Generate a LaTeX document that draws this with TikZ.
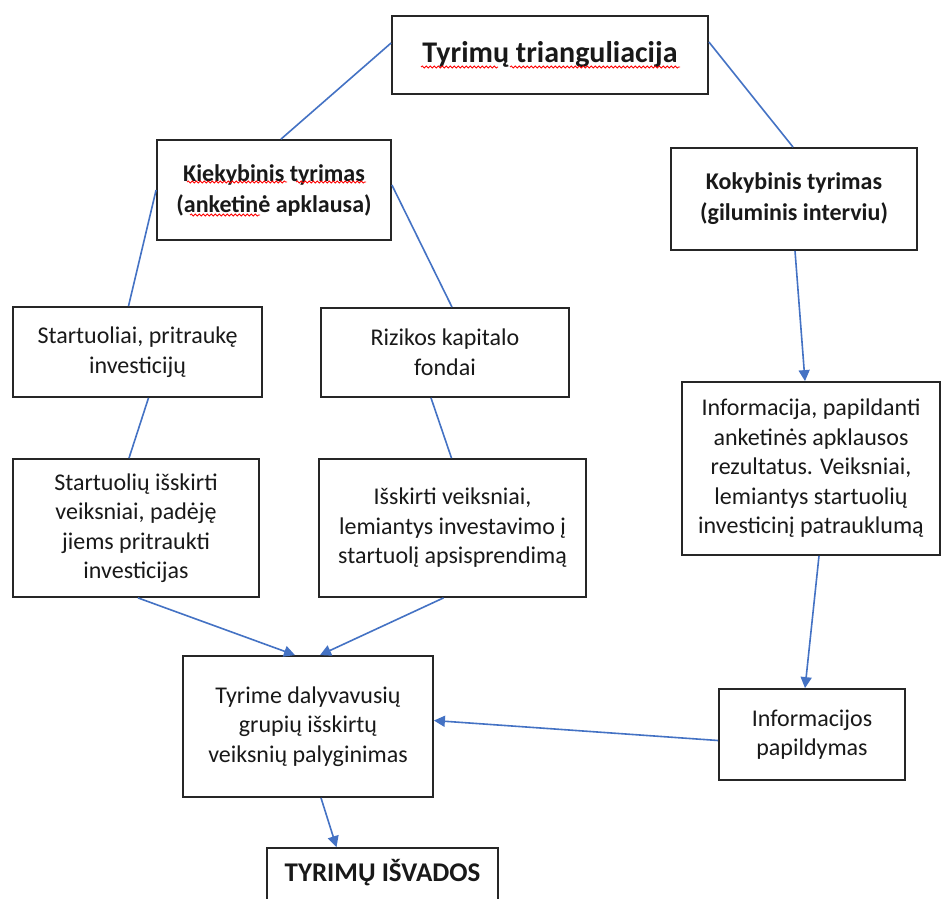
\documentclass[tikz,border=0pt]{standalone}
\usepackage{fontspec}
\setmainfont{Carlito}
\usetikzlibrary{arrows.meta,decorations.pathmorphing}
\definecolor{conblue}{HTML}{4472C4}
\definecolor{boxline}{HTML}{262626}
\tikzset{
  box/.style={draw=boxline, line width=1.8pt, rectangle, inner sep=0pt, align=center,
    font=\fontsize{24}{29.5}\selectfont, text=black!90},
  bbox/.style={box, font=\fontsize{24}{31}\selectfont\bfseries},
  conn/.style={draw=conblue, line width=1.6pt},
  arr/.style={conn, -{Triangle[length=11pt,width=11pt]}},
  squig/.style={draw=red, line width=0.8pt, decorate, decoration={snake, segment length=4pt, amplitude=1.1pt}},
}
\begin{document}
\begin{tikzpicture}[x=1pt,y=-1pt]
\useasboundingbox (0,0) rectangle (942,899);
\fill[white] (0,0) rectangle (942,899);

\node[box, minimum width=316pt, minimum height=78pt, font=\fontsize{30}{36}\selectfont\bfseries] (title) at (550,55) {Tyrimų trianguliacija};
\node[bbox, minimum width=234pt, minimum height=100pt] (kiek) at (274,190) {Kiekybinis tyrimas\\ (anketinė apklausa)};
\node[bbox, minimum width=246pt, minimum height=102pt] (koky) at (794,199) {Kokybinis tyrimas\\(giluminis interviu)};
\node[box, minimum width=249pt, minimum height=90pt] (st1) at (137.5,352) {Startuoliai, pritraukę\\investicijų};
\node[box, minimum width=248pt, minimum height=89pt] (riz) at (445,352.5) {Rizikos kapitalo\\fondai};
\node[box, minimum width=246pt, minimum height=138pt] (st2) at (136,528) {Startuolių išskirti\\veiksniai, padėję\\jiems pritraukti\\investicijas};
\node[box, minimum width=267pt, minimum height=138pt] (isk) at (452.5,528) {Išskirti veiksniai,\\lemiantys investavimo į\\startuolį apsisprendimą};
\node[box, minimum width=258pt, minimum height=173pt] (info) at (811,468.5) {Informacija, papildanti\\anketinės apklausos\\rezultatus. Veiksniai,\\lemiantys startuolių\\investicinį patrauklumą};
\node[box, minimum width=250pt, minimum height=141pt] (tyr) at (308,726.5) {Tyrime dalyvavusių\\grupių išskirtų\\veiksnių palyginimas};
\node[box, minimum width=186pt, minimum height=91pt] (pap) at (812,734.5) {Informacijos\\papildymas};
\node[box, font=\fontsize{27}{32}\selectfont\bfseries, minimum width=231pt, text height=33pt, text depth=50pt, anchor=base] (isv) at (382.5,881) {TYRIMŲ IŠVADOS};

% spell-check underlines
\draw[squig] ([xshift=-129pt,yshift=-12pt]title.center) -- ([xshift=-52pt,yshift=-12pt]title.center);
\draw[squig] ([xshift=-40pt,yshift=-12pt]title.center) -- ([xshift=130pt,yshift=-12pt]title.center);
\draw[squig] ([xshift=-87pt,yshift=8pt]kiek.center) -- ([xshift=13pt,yshift=8pt]kiek.center);
\draw[squig] ([xshift=22pt,yshift=8pt]kiek.center) -- ([xshift=92pt,yshift=8pt]kiek.center);
\draw[squig] ([xshift=-84pt,yshift=-25pt]kiek.center) -- ([xshift=-14pt,yshift=-25pt]kiek.center);

\draw[conn] ([yshift=12pt]title.west) -- ([xshift=7pt]kiek.north);
\draw[conn] ([yshift=13pt]title.east) -- ([xshift=-1pt]koky.north);
\draw[conn] (kiek.west) -- ([xshift=-9pt]st1.north);
\draw[conn] ([yshift=5pt]kiek.east) -- ([xshift=7pt]riz.north);
\draw[conn] ([xshift=11pt]st1.south) -- ([xshift=-7pt]st2.north);
\draw[conn] ([xshift=-14pt]riz.south) -- ([xshift=-1pt]isk.north);
\draw[arr] ([xshift=2pt]st2.south) -- ([xshift=-13pt]tyr.north);
\draw[arr] ([xshift=-9pt]isk.south) -- ([xshift=12pt]tyr.north);
\draw[arr] ([xshift=1pt]koky.south) -- ([xshift=-6pt]info.north);
\draw[arr] ([xshift=8pt]info.south) -- ([xshift=-7pt]pap.north);
\draw[arr] ([yshift=-6pt]pap.west) -- ([yshift=6pt]tyr.east);
\draw[arr] ([xshift=13pt]tyr.south) -- ([xshift=-46pt]isv.north);
\end{tikzpicture}
\end{document}
